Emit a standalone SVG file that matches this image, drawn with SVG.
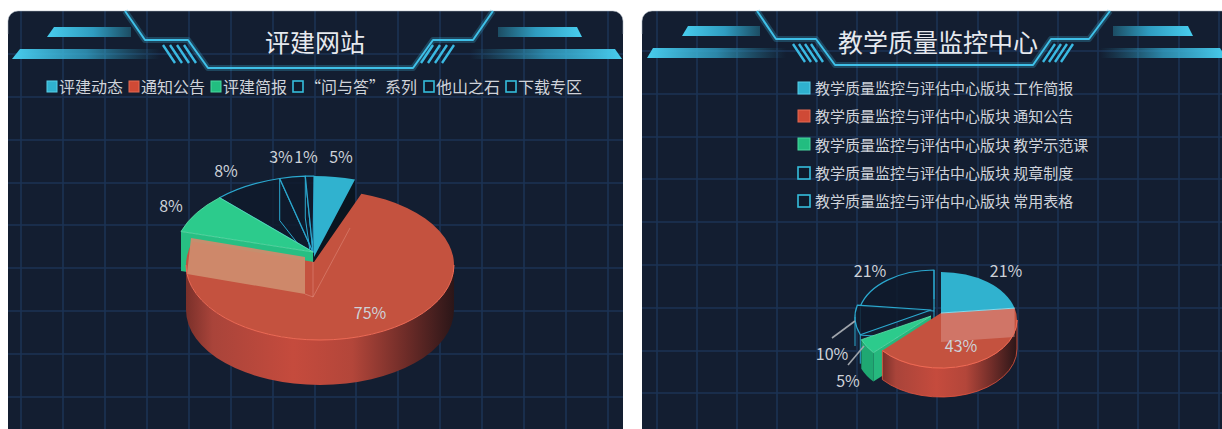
<svg xmlns="http://www.w3.org/2000/svg" width="1222" height="429" viewBox="0 0 1222 429">
<defs>
<style>
.bg{fill:#131e31}
.grid{stroke:#1c3354;stroke-width:1.6;fill:none}
.edge{fill:none;stroke:#aab4c0;stroke-width:1;opacity:.5}
.frame{fill:none;stroke:#3fc0e8;stroke-width:2;stroke-linejoin:round}
.frameglow{fill:none;stroke:#3fc0e8;stroke-width:6;stroke-linejoin:round;opacity:.25}
.stripe{stroke:#3ab9e2;stroke-width:2.4}
.title{font-family:"Noto Sans CJK SC","Noto Sans",sans-serif;font-size:25px;fill:#e6e9ee;text-anchor:middle}
.lg{font-family:"Noto Sans CJK SC","Noto Sans",sans-serif;font-size:16px;fill:#cfd3da}
.lg15{font-size:15px}
.pct{font-family:"Noto Sans CJK SC","Noto Sans",sans-serif;font-size:16px;fill:#cdd1d8;text-anchor:middle}
.sq-c{fill:#2fb1cf;stroke:#58cfe8;stroke-width:1}
.sq-r{fill:#cf4a36;stroke:#e56a52;stroke-width:1}
.sq-g{fill:#22bd80;stroke:#4ad8a0;stroke-width:1}
.sq-o{fill:#0f1a2b;stroke:#35bddc;stroke-width:1.6}
.wire{fill:#0f1a2b;fill-opacity:.85;stroke:#2ba8cf;stroke-width:1.2;stroke-linejoin:round}
.wl{fill:none;stroke:#2ba8cf;stroke-width:1}
.lead{fill:none;stroke:#9fa4ab;stroke-width:1.6}
.cyan{fill:#30b2cf}
.green{fill:#2ccb8c}
.redtop{fill:#c4523f}
.rim{fill:none;stroke:#ee6a55;stroke-width:1}
.faint{fill:none;stroke:#f2b0a0;stroke-width:1;opacity:.35}
</style>
<linearGradient id="barUL" x1="0" x2="1" y1="0" y2="0"><stop offset="0" stop-color="#48cdee"/><stop offset="0.55" stop-color="#2f9cc0"/><stop offset="1" stop-color="#1c4c63"/></linearGradient>
<linearGradient id="barUR" x1="1" x2="0" y1="0" y2="0"><stop offset="0" stop-color="#48cdee"/><stop offset="0.55" stop-color="#2f9cc0"/><stop offset="1" stop-color="#1c4c63"/></linearGradient>
<linearGradient id="barLL" x1="0" x2="1" y1="0" y2="0"><stop offset="0" stop-color="#48cdee"/><stop offset="0.5" stop-color="#34a9cf" stop-opacity=".75"/><stop offset="1" stop-color="#2a8fb0" stop-opacity="0"/></linearGradient>
<linearGradient id="barLR" x1="1" x2="0" y1="0" y2="0"><stop offset="0" stop-color="#48cdee"/><stop offset="0.5" stop-color="#34a9cf" stop-opacity=".75"/><stop offset="1" stop-color="#2a8fb0" stop-opacity="0"/></linearGradient>
<linearGradient id="rw" x1="0" x2="1" y1="0" y2="0"><stop offset="0" stop-color="#7a302a"/><stop offset="0.1" stop-color="#a9443a"/><stop offset="0.4" stop-color="#c54b3d"/><stop offset="0.62" stop-color="#b3463a"/><stop offset="0.82" stop-color="#6e2c28"/><stop offset="1" stop-color="#2b1618"/></linearGradient>
<clipPath id="clipL"><rect x="8" y="11" width="615" height="440" rx="10"/></clipPath>
<clipPath id="clipR"><rect x="642" y="11" width="600" height="440" rx="10"/></clipPath>
</defs>

<g id="panel-left">
<rect class="bg" x="8" y="11" width="615" height="440" rx="10"/>
<g clip-path="url(#clipL)">
<path class="grid" d="M21 11V429M63 11V429M105 11V429M147 11V429M189 11V429M231 11V429M273 11V429M315 11V429M356 11V429M398 11V429M440 11V429M482 11V429M524 11V429M566 11V429M608 11V429M8 54H623M8 97H623M8 140H623M8 183H623M8 225H623M8 268H623M8 311H623M8 354H623M8 397H623"/>
</g>
<path class="edge" d="M8 34V21A10 10 0 0 1 18 11H613A10 10 0 0 1 623 21V34"/>
<polygon points="54,27 131,27 131,37 47,37" fill="url(#barUL)"/>
<polygon points="20,49 160,49 160,59 12,59" fill="url(#barLL)"/>
<polygon points="498,27 577,27 582,37 498,37" fill="url(#barUR)"/>
<polygon points="470,49 615,49 622,59 470,59" fill="url(#barLR)"/>
<path class="frameglow" d="M125 11L145 40L188 40L208 68L413 68L433 40L473 40L493 11"/>
<path class="frame" d="M125 11L145 40L188 40L208 68L413 68L433 40L473 40L493 11"/>
<path class="stripe" d="M163 45L175 63M170 45L182 63M177 45L189 63M184 45L196 63M421 63L433 45M428 63L440 45M435 63L447 45M442 63L454 45"/>
<text class="title" x="315" y="52">评建网站</text>
<rect class="sq-c" x="47" y="81" width="10" height="11"/>
<text class="lg" x="59" y="93">评建动态</text>
<rect class="sq-r" x="129" y="81" width="10" height="11"/>
<text class="lg" x="141" y="93">通知公告</text>
<rect class="sq-g" x="211" y="81" width="10" height="11"/>
<text class="lg" x="223" y="93">评建简报</text>
<rect class="sq-o" x="293" y="81" width="10" height="11"/>
<text class="lg" x="305" y="93">“问与答”系列</text>
<rect class="sq-o" x="424" y="81" width="10" height="11"/>
<text class="lg" x="436" y="93">他山之石</text>
<rect class="sq-o" x="506" y="81" width="10" height="11"/>
<text class="lg" x="518" y="93">下载专区</text>
</g>

<g id="panel-right">
<rect class="bg" x="642" y="11" width="600" height="440" rx="10"/>
<g clip-path="url(#clipR)">
<path class="grid" d="M657 11V429M697 11V429M737 11V429M777 11V429M817 11V429M857 11V429M897 11V429M937 11V429M978 11V429M1018 11V429M1058 11V429M1098 11V429M1138 11V429M1179 11V429M1219 11V429M642 51H1222M642 94H1222M642 137H1222M642 179H1222M642 222H1222M642 265H1222M642 308H1222M642 351H1222M642 393H1222"/>
</g>
<path class="edge" d="M642 34V21A10 10 0 0 1 652 11H1222"/>
<polygon points="688,26 760,26 760,36 682,36" fill="url(#barUL)"/>
<polygon points="653,48 786,48 786,58 647,58" fill="url(#barLL)"/>
<polygon points="1113,26 1188,26 1193,36 1113,36" fill="url(#barUR)"/>
<polygon points="1100,48 1220,48 1226,58 1100,58" fill="url(#barLR)"/>
<path class="frameglow" d="M757 11L776 39L816 39L835 65L1033 65L1051 39L1089 39L1110 11"/>
<path class="frame" d="M757 11L776 39L816 39L835 65L1033 65L1051 39L1089 39L1110 11"/>
<path class="stripe" d="M793 44L805 62M799 44L811 62M805 44L817 62M811 44L823 62M1043 62L1055 44M1049 62L1061 44M1055 62L1067 44M1061 62L1073 44"/>
<text class="title" x="938" y="52">教学质量监控中心</text>
<rect class="sq-c" x="798" y="82" width="12" height="12"/>
<text class="lg lg15" x="815" y="93.5">教学质量监控与评估中心版块 工作简报</text>
<rect class="sq-r" x="798" y="110" width="12" height="12"/>
<text class="lg lg15" x="815" y="122">教学质量监控与评估中心版块 通知公告</text>
<rect class="sq-g" x="798" y="138" width="12" height="12"/>
<text class="lg lg15" x="815" y="150.5">教学质量监控与评估中心版块 教学示范课</text>
<rect class="sq-o" x="798" y="167" width="12" height="12"/>
<text class="lg lg15" x="815" y="178.5">教学质量监控与评估中心版块 规章制度</text>
<rect class="sq-o" x="798" y="195" width="12" height="12"/>
<text class="lg lg15" x="815" y="207">教学质量监控与评估中心版块 常用表格</text>
</g>

<g id="pie-left">
<g id="slice-wenyuda">
<path class="wire" d="M313 252L219.5 197.7A138 80 0 0 1 279.7 178.5Z"/>
<path class="wl" d="M279.7 178.5V220.5M219.5 197.7V239.7M279.7 220.5L309 258"/>
</g>
<g id="slice-tashan">
<path class="wire" d="M313 252L279.7 178.5A138 80 0 0 1 305.3 176.2Z"/>
<path class="wl" d="M305.3 176.2V218M305.3 218L311 258"/>
</g>
<g id="slice-xiazai">
<path class="wire" d="M313 252L305.3 176.2A138 80 0 0 1 314 176Z"/>
</g>
<g id="slice-pingjiandongtai">
<path fill="#0a1520" d="M314 257L355 179.5L355 219L314 297Z"/>
<path class="cyan" d="M314 257L314 176A138 80 0 0 1 355 179.5Z"/>
</g>
<g id="slice-jianbao">
<path fill="#27bf83" d="M313 252L181 231.5L181 271L313 292Z"/>
<path class="green" stroke="#5fe0aa" stroke-width="0.8" d="M313 252L181 231.5A138 80 0 0 1 219.5 197.7Z"/>
</g>
<g id="slice-tongzhi">
<path fill="url(#rw)" d="M454 265A134 75 0 0 1 186 265L186 310A134 75 0 0 0 454 310Z"/>
<path class="redtop" d="M314 262L361.4 193.7A134 75 0 1 1 192.6 241.8Z"/>
<path fill="#cf8b6d" opacity="0.95" d="M305 257L191 238L187 274L305 294Z"/>
<path class="rim" d="M454 265A134 75 0 0 1 186 265"/>
<path class="faint" d="M313 262V297M313 297L350 228M313 297L305 294"/>
</g>
<text class="pct" x="341" y="163">5%</text>
<text class="pct" x="306" y="163">1%</text>
<text class="pct" x="281" y="163">3%</text>
<text class="pct" x="226" y="177">8%</text>
<text class="pct" x="171" y="212">8%</text>
<text class="pct" x="370" y="319">75%</text>
</g>

<g id="pie-right">
<g id="slice-changyong">
<path class="wire" d="M934 311L860.4 306.1A76 48 0 0 1 934 270Z"/>
<path class="wl" d="M934 270V299M934 311V340M860.4 306.1V335.1M860.4 335.1L934 340"/>
</g>
<g id="slice-guizhang">
<path class="wire" d="M931 310L860.3 334.7A76 48 0 0 1 857.4 305.1Z"/>
<path class="wl" d="M855 317V346M860.3 334.7V363.7"/>
</g>
<g id="slice-shifanke">
<path fill="#26b87e" d="M931 316L873.4 352.6L873.4 381.6L931 345Z"/>
<path fill="#1fa872" d="M873.4 352.6A76 48 0 0 1 861.3 339.7L861.3 368.7A76 48 0 0 0 873.4 381.6Z"/>
<path class="green" stroke="#5fe0aa" stroke-width="0.8" d="M931 316L861.3 339.7A76 48 0 0 0 873.4 352.6Z"/>
</g>
<g id="slice-gongzuo">
<path fill="#2aa3c0" d="M941 313L1014.6 308.1L1014.6 337L941 342Z"/>
<path class="cyan" d="M941 313L941 272A76 48 0 0 1 1014.6 308.1Z"/>
</g>
<g id="slice-tongzhi-r">
<path fill="url(#rw)" stroke="#e8553f" stroke-width="0.8" d="M1017 320A76 48 0 0 1 882.4 350.6L882.4 379.6A76 48 0 0 0 1017 349Z"/>
<path class="redtop" d="M941 313L1014.6 308.1A76 48 0 0 1 882.4 350.6Z"/>
<path fill="#e0a09a" opacity="0.45" d="M941 313L1014.6 308.1L1014.6 337L941 342Z"/>
<path fill="none" stroke="#7fdcf0" stroke-width="1" d="M941 313L1014.6 308.1"/>
<path class="rim" d="M1017 320A76 48 0 0 1 882.4 350.6"/>
</g>
<text class="pct" x="870" y="277">21%</text>
<text class="pct" x="1006" y="277">21%</text>
<text class="pct" x="961" y="352">43%</text>
<text class="pct" x="832" y="360">10%</text>
<text class="pct" x="848" y="387">5%</text>
</g>

<g id="connectors">
<path class="lead" d="M832 338L855 321"/>
<path class="lead" d="M848 365L864 346"/>
</g>
</svg>
